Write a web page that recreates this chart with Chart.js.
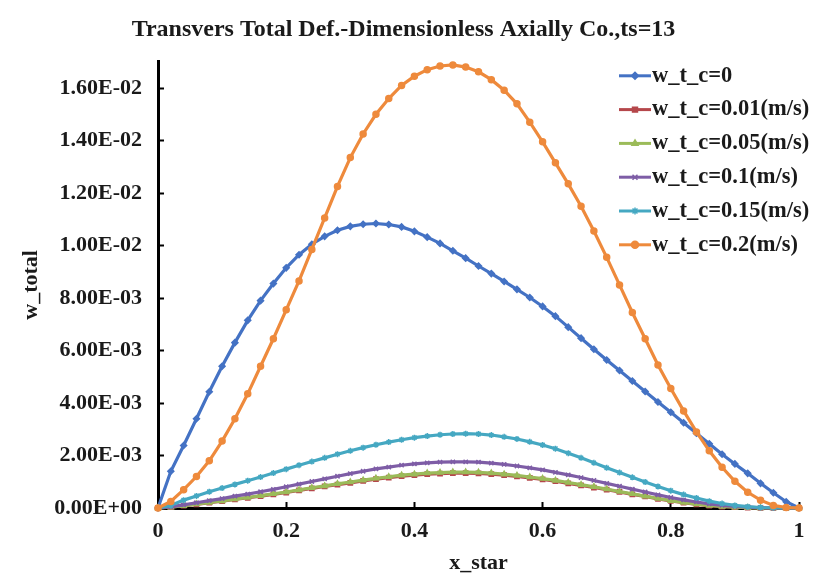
<!DOCTYPE html>
<html>
<head>
<meta charset="utf-8">
<script src="https://cdn.jsdelivr.net/npm/chart.js@4"></script>
<style>
  html, body { margin: 0; padding: 0; background: #fff; }
  canvas { display: block; }
</style>
</head>
<body>
<canvas id="defChart" width="825" height="586"></canvas>
<script>
// === Data ===
const chartTitle = "Transvers Total Def.-Dimensionless Axially Co.,ts=13";

const xStar = [0, 0.02, 0.04, 0.06, 0.08, 0.1, 0.12, 0.14, 0.16, 0.18,
    0.2, 0.22, 0.24, 0.26, 0.28, 0.3, 0.32, 0.34, 0.36, 0.38,
    0.4, 0.42, 0.44, 0.46, 0.48, 0.5, 0.52, 0.54, 0.56, 0.58,
    0.6, 0.62, 0.64, 0.66, 0.68, 0.7, 0.72, 0.74, 0.76, 0.78,
    0.8, 0.82, 0.84, 0.86, 0.88, 0.9, 0.92, 0.94, 0.96, 0.98, 1];

const seriesLabels = ["w_t_c=0", "w_t_c=0.01(m/s)", "w_t_c=0.05(m/s)",
    "w_t_c=0.1(m/s)", "w_t_c=0.15(m/s)", "w_t_c=0.2(m/s)"];

const wc0 = [0, 0.0014, 0.00238, 0.0034, 0.00443, 0.0054, 0.0063, 0.00715, 0.0079, 0.00855,
    0.00915, 0.00965, 0.01005, 0.01035, 0.01058, 0.01073, 0.01081, 0.01084, 0.0108, 0.01071,
    0.01054, 0.01032, 0.01008, 0.0098, 0.00952, 0.00922, 0.00893, 0.00863, 0.00833, 0.00802,
    0.00768, 0.00731, 0.00689, 0.00647, 0.00605, 0.00564, 0.00524, 0.00484, 0.00444, 0.00404,
    0.00365, 0.00325, 0.00285, 0.00245, 0.00205, 0.00168, 0.00132, 0.00094, 0.00058, 0.00024, 0];

const wc001 = [0, 0.00003, 0.00009, 0.00014, 0.0002, 0.00026, 0.00033, 0.00039, 0.00045, 0.00052,
    0.00059, 0.00067, 0.00075, 0.00082, 0.00089, 0.00096, 0.00103, 0.0011, 0.00116, 0.00121,
    0.00125, 0.00129, 0.00131, 0.00133, 0.00133, 0.00132, 0.00129, 0.00125, 0.0012, 0.00115,
    0.00109, 0.00102, 0.00094, 0.00086, 0.00078, 0.0007, 0.00061, 0.00052, 0.00044, 0.00035,
    0.00027, 0.0002, 0.00014, 0.00009, 0.00005, 0.00003, 0.00001, 0, 0, 0, 0];

const wc005 = [0, 0.00003, 0.00009, 0.00015, 0.00021, 0.00027, 0.00034, 0.0004, 0.00047, 0.00054,
    0.00061, 0.00069, 0.00077, 0.00084, 0.00092, 0.00099, 0.00106, 0.00113, 0.00119, 0.00125,
    0.00129, 0.00133, 0.00135, 0.00137, 0.00137, 0.00136, 0.00133, 0.00129, 0.00124, 0.00118,
    0.00112, 0.00105, 0.00097, 0.00089, 0.00081, 0.00072, 0.00063, 0.00054, 0.00045, 0.00036,
    0.00028, 0.00021, 0.00015, 0.0001, 0.00006, 0.00003, 0.00001, 0, 0, 0, 0];

const wc01 = [0, 0.00004, 0.00012, 0.0002, 0.00028, 0.00036, 0.00045, 0.00053, 0.00062, 0.00071,
    0.00081, 0.00091, 0.00101, 0.00111, 0.00121, 0.00131, 0.0014, 0.00149, 0.00156, 0.00163,
    0.00168, 0.00172, 0.00175, 0.00176, 0.00176, 0.00175, 0.00171, 0.00166, 0.0016, 0.00153,
    0.00145, 0.00136, 0.00126, 0.00116, 0.00105, 0.00094, 0.00083, 0.00072, 0.00061, 0.0005,
    0.0004, 0.00031, 0.00023, 0.00016, 0.0001, 0.00006, 0.00003, 0.00001, 0, 0, 0];

const wc015 = [0, 0.0001, 0.0003, 0.00046, 0.00062, 0.00076, 0.0009, 0.00104, 0.00118, 0.00133,
    0.00148, 0.00163, 0.00177, 0.00191, 0.00205, 0.00218, 0.0023, 0.00241, 0.00251, 0.0026,
    0.00268, 0.00274, 0.00279, 0.00282, 0.00283, 0.00282, 0.00278, 0.00271, 0.00263, 0.00252,
    0.0024, 0.00226, 0.00209, 0.00191, 0.00172, 0.00153, 0.00135, 0.00117, 0.00099, 0.00082,
    0.00066, 0.00051, 0.00038, 0.00026, 0.00017, 0.0001, 0.00005, 0.00002, 0.00001, 0, 0];

const wc02 = [0, 0.00025, 0.0007, 0.0012, 0.0018, 0.00255, 0.0034, 0.00435, 0.0054, 0.00645,
    0.00755, 0.00865, 0.00985, 0.01105, 0.01225, 0.01335, 0.01425, 0.015, 0.0156, 0.0161,
    0.01645, 0.0167, 0.01684, 0.01688, 0.0168, 0.01662, 0.01632, 0.01592, 0.0154, 0.0147,
    0.01395, 0.01315, 0.01235, 0.0115, 0.01055, 0.00955, 0.0085, 0.00745, 0.00645, 0.00545,
    0.00455, 0.0037, 0.0029, 0.00218, 0.00155, 0.00102, 0.0006, 0.0003, 0.0001, 0.00002, 0];

// === Styling ===
const seriesColors = ["#4472C4", "#B5474B", "#9BBB59", "#7E5DA6", "#45A8C2", "#EE8A3C"];
const seriesMarkers = ["rectRot", "rect", "triangle", "crossRot", "star", "circle"];
const seriesValues = [wc0, wc001, wc005, wc01, wc015, wc02];

const serif = "'Liberation Serif', 'Times New Roman', serif";
const inkColor = "#1a1a1a";
const labelFont = { family: serif, size: 22, weight: "bold" };

// Excel-like scientific labels, e.g. 1.60E-02
function formatE(value) {
    const parts = Number(value).toExponential(2).split("e");
    const sign = parts[1][0];
    const digits = parts[1].slice(1).padStart(2, "0");
    return parts[0] + "E" + sign + digits;
}

// Legend drawn inside the plot area (top right), like the original
const insideLegend = {
    id: "insideLegend",
    afterDraw(chart) {
        const ctx = chart.ctx;
        const area = chart.chartArea;
        const x0 = area.right - 180;
        const y0 = area.top + 14;
        const step = 33.8;
        ctx.save();
        chart.data.datasets.forEach((ds, i) => {
            const y = y0 + i * step;
            ctx.strokeStyle = ds.borderColor;
            ctx.fillStyle = ds.borderColor;
            ctx.lineWidth = 3;
            ctx.beginPath();
            ctx.moveTo(x0, y);
            ctx.lineTo(x0 + 32, y);
            ctx.stroke();
            ctx.lineWidth = 1.5;
            Chart.helpers.drawPoint(ctx, { pointStyle: ds.pointStyle, radius: 3.5, rotation: 0, borderWidth: 1.5 }, x0 + 16, y);
            ctx.fillStyle = inkColor;
            ctx.font = "bold 22.5px " + serif;
            ctx.textBaseline = "middle";
            ctx.textAlign = "left";
            ctx.fillText(ds.label, x0 + 33, y);
        });
        ctx.restore();
    }
};

const datasets = seriesValues.map((vals, i) => ({
    label: seriesLabels[i],
    data: xStar.map((x, j) => ({ x: x, y: vals[j] })),
    borderColor: seriesColors[i],
    backgroundColor: seriesColors[i],
    borderWidth: 3.2,
    pointStyle: seriesMarkers[i],
    pointRadius: 3,
    pointBorderWidth: 1.5,
    tension: 0,
    clip: 6,
    order: seriesValues.length - i
}));

const ctx = document.getElementById("defChart").getContext("2d");

new Chart(ctx, {
    type: "line",
    data: { datasets: datasets },
    options: {
        responsive: false,
        animation: false,
        layout: { padding: { left: 8, right: 26, top: 0, bottom: 8 } },
        plugins: {
            legend: { display: false },
            tooltip: { enabled: false },
            title: {
                display: true,
                text: chartTitle,
                color: inkColor,
                font: { family: serif, size: 24, weight: "bold" },
                padding: { top: 15, bottom: 18 }
            }
        },
        scales: {
            x: {
                type: "linear",
                min: 0,
                max: 1,
                ticks: {
                    stepSize: 0.2,
                    color: inkColor,
                    font: labelFont,
                    padding: 16,
                    maxRotation: 0,
                    callback: (v) => String(Number(v.toFixed(2)))
                },
                grid: { drawOnChartArea: false, tickLength: -6, tickColor: "#000", tickWidth: 2 },
                border: { color: "#000", width: 3 },
                title: {
                    display: true,
                    text: "x_star",
                    color: inkColor,
                    font: labelFont,
                    padding: { top: 0, bottom: 1 }
                },
                afterFit: (scale) => { scale.height = 70; }
            },
            y: {
                min: 0,
                max: 0.017,
                ticks: {
                    stepSize: 0.002,
                    color: inkColor,
                    font: labelFont,
                    padding: 22,
                    callback: (v) => formatE(v)
                },
                afterBuildTicks: (scale) => {
                    scale.ticks = scale.ticks.filter(t => t.value <= 0.0161);
                },
                grid: { drawOnChartArea: false, tickLength: -6, tickColor: "#000", tickWidth: 2 },
                border: { color: "#000", width: 3 },
                title: {
                    display: true,
                    text: "w_total",
                    color: inkColor,
                    font: labelFont,
                    padding: { top: 10, bottom: 0 }
                },
                afterFit: (scale) => { scale.width = 150; }
            }
        }
    },
    plugins: [insideLegend]
});
</script>
</body>
</html>
